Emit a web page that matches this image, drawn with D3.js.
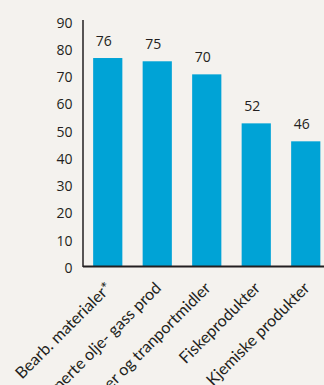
<!DOCTYPE html>
<html>
<head>
<meta charset="utf-8">
<script src="https://cdn.jsdelivr.net/npm/d3@7"></script>
<style>
  html, body { margin: 0; padding: 0; background: #f4f2ee; }
  svg { display: block; }
  .tick text { font-family: "Open Sans", sans-serif; font-size: 14px; fill: #231f20; }
</style>
</head>
<body>
<svg id="chart"></svg>
<script>
const categories = ["Bearb. materialer*", "Raffinerte olje- gass prod", "Maskiner og tranportmidler", "Fiskeprodukter", "Kjemiske produkter"]
const values = [76.4, 75.2, 70.4, 52.4, 45.8]
const yTicks = [0, 10, 20, 30, 40, 50, 60, 70, 80, 90]

const width = 324
const height = 385
const axisX = 83
const baseY = 266

const svg = d3.select("#chart")
  .attr("width", width)
  .attr("height", height)

svg.append("rect")
  .attr("width", width).attr("height", height)
  .attr("fill", "#f4f2ee")

const x = d3.scaleBand()
  .domain(categories)
  .range([axisX, 330.5])
  .paddingInner(0.41)
  .paddingOuter(0.205)

const y = d3.scaleLinear()
  .domain([0, 90])
  .range([baseY, 21])

/* bars */
svg.append("g")
  .selectAll("rect")
  .data(values)
  .enter().append("rect")
    .attr("x", (d, i) => x(categories[i]))
    .attr("y", d => y(d))
    .attr("width", x.bandwidth())
    .attr("height", d => baseY - y(d))
    .attr("fill", "#00a3d6")

/* value labels over the bars */
svg.append("g")
  .selectAll("text")
  .data(values)
  .enter().append("text")
    .attr("x", (d, i) => x(categories[i]) + x.bandwidth() / 2 - 4)
    .attr("y", d => y(d) - 17)
    .attr("dy", "0.35em")
    .attr("text-anchor", "middle")
    .style("font-family", "Open Sans, sans-serif")
    .style("font-size", "14px")
    .attr("fill", "#231f20")
    .text(d => d3.format(".0f")(d))

/* y axis, no tick marks */
const yAxis = svg.append("g")
  .attr("transform", "translate(" + axisX + ",0)")
  .call(d3.axisLeft(y).tickValues(yTicks).tickSize(0).tickPadding(10.5))
yAxis.select(".domain").remove()
yAxis.selectAll(".tick text").attr("dy", "0.45em")

svg.append("line")
  .attr("x1", axisX).attr("x2", axisX)
  .attr("y1", 20).attr("y2", baseY + 1)
  .attr("stroke", "#231f20").attr("stroke-width", 1.5)

svg.append("line")
  .attr("x1", axisX).attr("x2", width)
  .attr("y1", baseY + 0.5).attr("y2", baseY + 0.5)
  .attr("stroke", "#231f20").attr("stroke-width", 2)

/* rotated category labels */
svg.append("g")
  .selectAll("text")
  .data(categories)
  .enter().append("text")
    .attr("transform", d => "translate(" + (x(d) + x.bandwidth() / 2 + 5) + "," + 289 + ") rotate(-45)")
    .attr("text-anchor", "end")
    .style("font-family", "Lato, sans-serif")
    .style("font-size", "16.2px")
    .attr("fill", "#231f20")
    .text(d => d)
</script>
</body>
</html>
